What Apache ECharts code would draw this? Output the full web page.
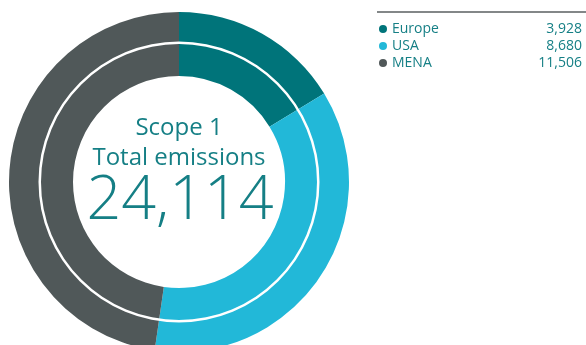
<!DOCTYPE html>
<html>
<head>
<meta charset="utf-8">
<script src="https://cdn.jsdelivr.net/npm/echarts@6/dist/echarts.min.js"></script>
<style>
  html, body { margin: 0; padding: 0; background: #fff; }
  #chart { width: 586px; height: 345px; }
</style>
</head>
<body>
<div id="chart"></div>
<script>
// Scope 1 emissions by region
const regions = ['Europe', 'USA', 'MENA'];
const emissions = [3928, 8680, 11506];
const regionColors = ['#00747a', '#22b8d8', '#505859'];
const totalLabel = '24,114';

const fmt = v => v.toLocaleString('en-US');
const textColor = '#157f85';
const font = '"Open Sans", "Noto Sans", sans-serif';

const chart = echarts.init(document.getElementById('chart'));
chart.setOption({
  animation: false,
  legend: {
    data: regions,
    orient: 'vertical',
    left: 374,
    top: 17,
    icon: 'circle',
    itemWidth: 8,
    itemHeight: 8,
    itemGap: 3,
    selectedMode: false,
    formatter: name => {
      const i = regions.indexOf(name);
      return '{n|' + name + '}{v|' + fmt(emissions[i]) + '}';
    },
    textStyle: {
      fontFamily: font,
      color: textColor,
      fontSize: 14,
      rich: {
        n: { width: 100, fontFamily: font, fontSize: 14, color: textColor, lineHeight: 15 },
        v: { width: 90, align: 'right', fontFamily: font, fontSize: 14, color: textColor, lineHeight: 15 }
      }
    }
  },
  graphic: [
    { type: 'line', shape: { x1: 377, y1: 12, x2: 586, y2: 12 },
      style: { stroke: '#5a5f60', lineWidth: 1.5 } },
    { type: 'text', x: 179, y: 128,
      style: { text: 'Scope 1', textAlign: 'center', textVerticalAlign: 'middle',
               font: '400 24px ' + font, fill: textColor } },
    { type: 'text', x: 179, y: 158,
      style: { text: 'Total emissions', textAlign: 'center', textVerticalAlign: 'middle',
               font: '400 24px ' + font, fill: textColor } },
    { type: 'text', x: 180, y: 202,
      style: { text: totalLabel, textAlign: 'center', textVerticalAlign: 'middle',
               font: '300 61px ' + font, fill: textColor } }
  ],
  series: [
    {
      type: 'pie',
      center: [179, 182],
      radius: [106, 170],
      startAngle: 90,
      clockwise: true,
      silent: true,
      label: { show: false },
      labelLine: { show: false },
      itemStyle: { borderWidth: 0 },
      data: regions.map((r, i) => ({ name: r, value: emissions[i], itemStyle: { color: regionColors[i] } }))
    },
    {
      // thin white ring running through the donut
      type: 'pie',
      center: [179, 182],
      radius: [138, 140.5],
      silent: true,
      z: 5,
      label: { show: false },
      labelLine: { show: false },
      data: [{ name: 'ring', value: 1, itemStyle: { color: '#ffffff' } }]
    }
  ]
});
</script>
</body>
</html>
